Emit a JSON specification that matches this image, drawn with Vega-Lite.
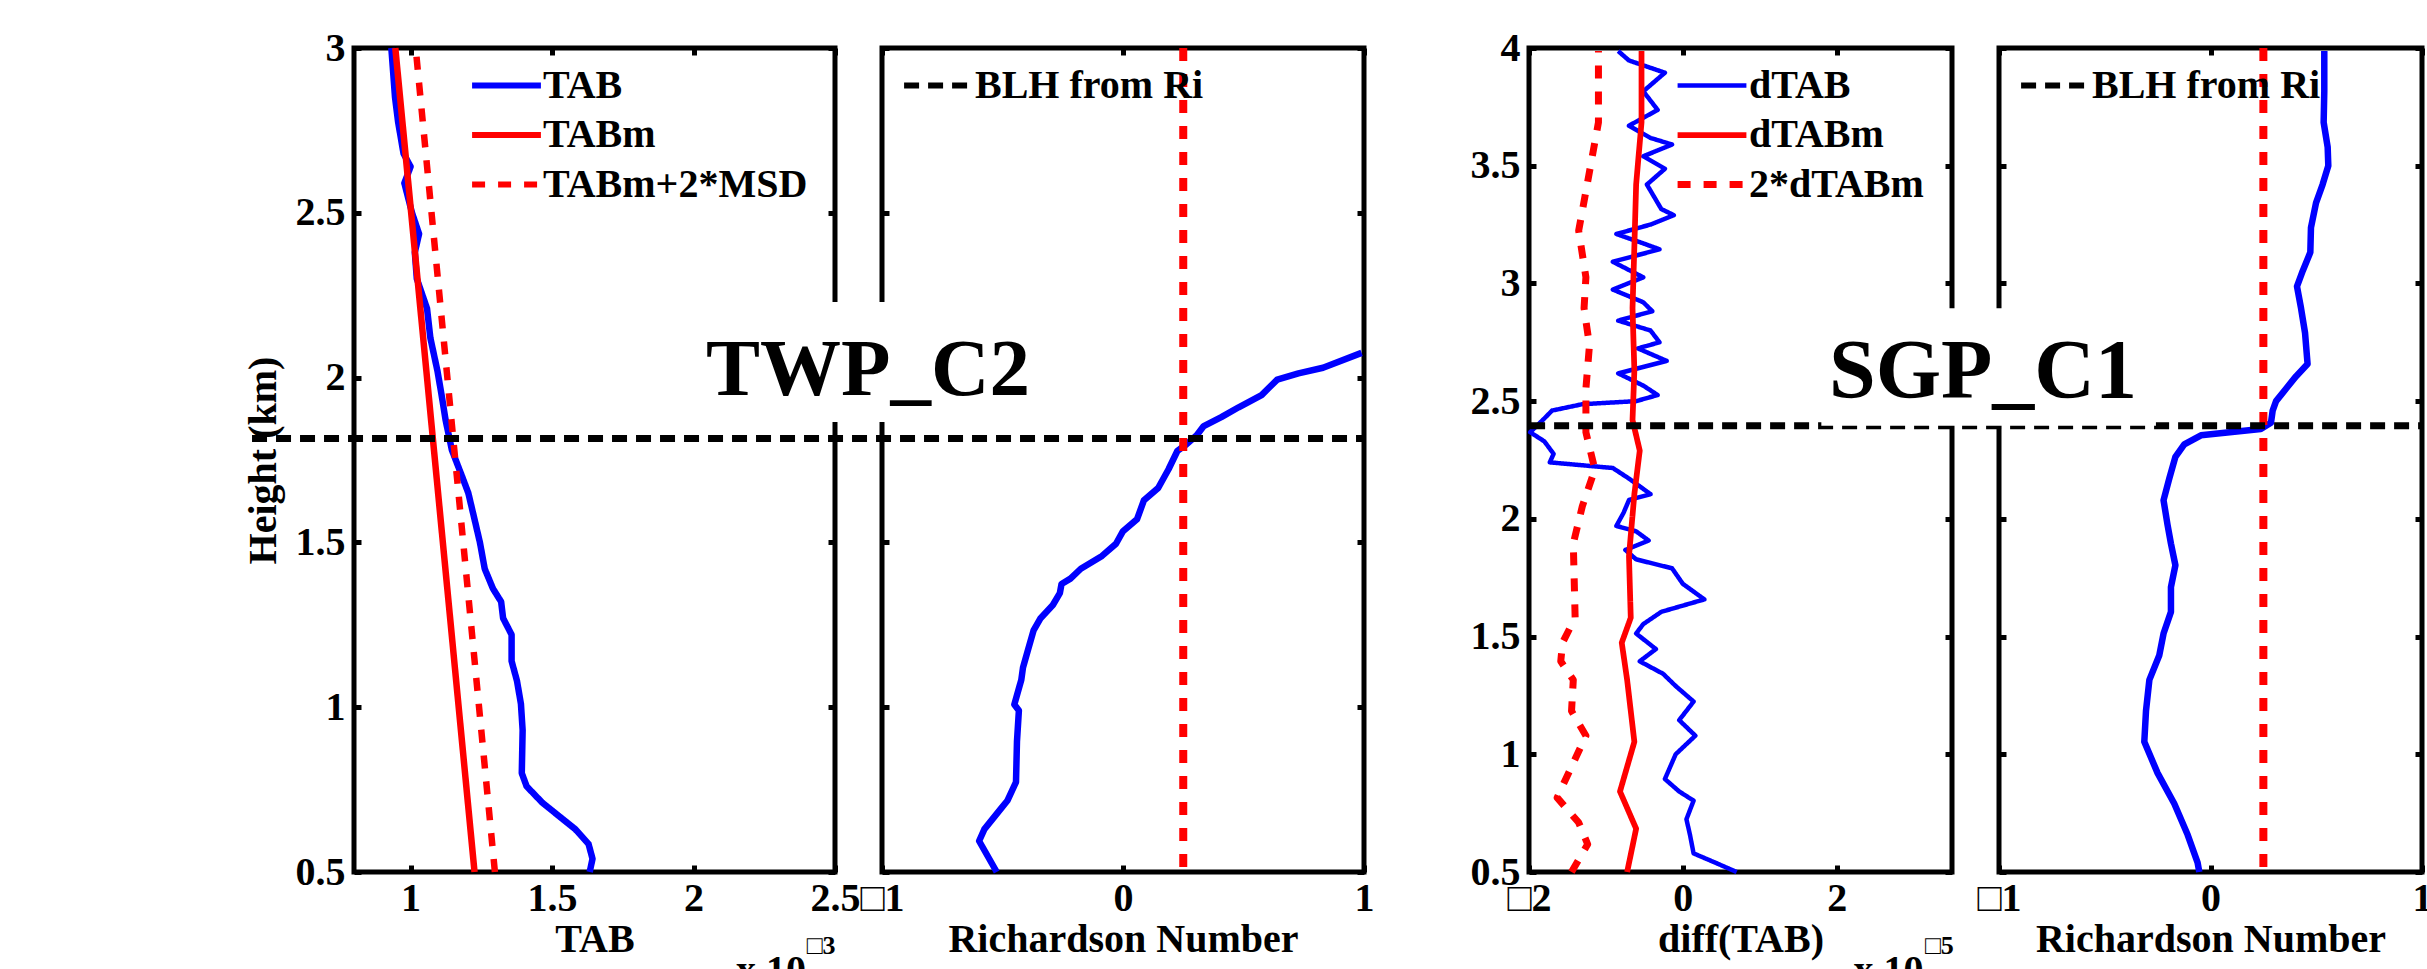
{
  "$schema": "https://vega.github.io/schema/vega-lite/v6.json",
  "background": "white",
  "autosize": {"type": "pad"},
  "padding": {"left": 240, "top": 25, "right": 0, "bottom": 0},
  "config": {
    "font": "Liberation Serif",
    "view": {"stroke": "black", "strokeWidth": 5, "fill": null},
    "scale": {"zero": false},
    "axis": {
      "domain": false, "grid": false,
      "tickColor": "black", "tickWidth": 5, "tickSize": -7,
      "labelFont": "Liberation Serif", "labelFontWeight": "bold", "labelFontSize": 40, "labelColor": "black",
      "labelFlush": false, "labelOverlap": false,
      "titleFont": "Liberation Serif", "titleFontWeight": "bold", "titleFontSize": 40, "titleColor": "black"
    },
    "axisX": {"labelPadding": 13, "titlePadding": 1},
    "axisY": {"labelPadding": 16, "titlePadding": 12},
    "legend": {
      "orient": "none", "padding": 0, "symbolType": "stroke", "symbolSize": 4737, "symbolStrokeWidth": 6,
      "labelFont": "Liberation Serif", "labelFontWeight": "bold", "labelFontSize": 40, "labelColor": "black",
      "labelOffset": -1, "rowPadding": 9.5, "clipHeight": 40, "labelLimit": 0
    }
  },
  "datasets": {
    "twp_tab": [
      {"h": 3.0, "v": 0.932, "s": "TAB"}, {"h": 2.85, "v": 0.945, "s": "TAB"}, {"h": 2.775, "v": 0.956, "s": "TAB"},
      {"h": 2.68, "v": 0.975, "s": "TAB"}, {"h": 2.64, "v": 1.0, "s": "TAB"}, {"h": 2.59, "v": 0.978, "s": "TAB"},
      {"h": 2.5, "v": 1.005, "s": "TAB"}, {"h": 2.436, "v": 1.03, "s": "TAB"}, {"h": 2.38, "v": 1.015, "s": "TAB"},
      {"h": 2.3, "v": 1.022, "s": "TAB"}, {"h": 2.21, "v": 1.058, "s": "TAB"}, {"h": 2.12, "v": 1.07, "s": "TAB"},
      {"h": 2.02, "v": 1.095, "s": "TAB"}, {"h": 1.95, "v": 1.109, "s": "TAB"}, {"h": 1.87, "v": 1.124, "s": "TAB"},
      {"h": 1.78, "v": 1.146, "s": "TAB"}, {"h": 1.7, "v": 1.182, "s": "TAB"}, {"h": 1.65, "v": 1.204, "s": "TAB"},
      {"h": 1.57, "v": 1.226, "s": "TAB"}, {"h": 1.5, "v": 1.245, "s": "TAB"}, {"h": 1.42, "v": 1.262, "s": "TAB"},
      {"h": 1.36, "v": 1.291, "s": "TAB"}, {"h": 1.32, "v": 1.32, "s": "TAB"}, {"h": 1.27, "v": 1.327, "s": "TAB"},
      {"h": 1.22, "v": 1.357, "s": "TAB"}, {"h": 1.14, "v": 1.357, "s": "TAB"}, {"h": 1.08, "v": 1.376, "s": "TAB"},
      {"h": 1.01, "v": 1.39, "s": "TAB"}, {"h": 0.93, "v": 1.396, "s": "TAB"}, {"h": 0.8, "v": 1.393, "s": "TAB"},
      {"h": 0.76, "v": 1.41, "s": "TAB"}, {"h": 0.71, "v": 1.466, "s": "TAB"}, {"h": 0.67, "v": 1.524, "s": "TAB"},
      {"h": 0.63, "v": 1.582, "s": "TAB"}, {"h": 0.585, "v": 1.629, "s": "TAB"}, {"h": 0.54, "v": 1.643, "s": "TAB"},
      {"h": 0.5, "v": 1.633, "s": "TAB"},
      {"h": 3.0, "v": 0.946, "s": "TABm"}, {"h": 1.75, "v": 1.086, "s": "TABm"}, {"h": 0.5, "v": 1.226, "s": "TABm"},
      {"h": 3.0, "v": 1.018, "s": "TABm+2*MSD"}, {"h": 1.75, "v": 1.158, "s": "TABm+2*MSD"}, {"h": 0.5, "v": 1.298, "s": "TABm+2*MSD"}
    ],
    "twp_ri": [
      {"h": 0.5, "ri": -0.524}, {"h": 0.594, "ri": -0.597}, {"h": 0.63, "ri": -0.575}, {"h": 0.69, "ri": -0.509},
      {"h": 0.716, "ri": -0.48}, {"h": 0.773, "ri": -0.444}, {"h": 0.895, "ri": -0.44}, {"h": 0.99, "ri": -0.432},
      {"h": 1.008, "ri": -0.451}, {"h": 1.083, "ri": -0.422}, {"h": 1.12, "ri": -0.415}, {"h": 1.177, "ri": -0.393},
      {"h": 1.233, "ri": -0.371}, {"h": 1.27, "ri": -0.342}, {"h": 1.31, "ri": -0.291}, {"h": 1.346, "ri": -0.262},
      {"h": 1.374, "ri": -0.255}, {"h": 1.39, "ri": -0.218}, {"h": 1.42, "ri": -0.175}, {"h": 1.459, "ri": -0.087},
      {"h": 1.496, "ri": -0.029}, {"h": 1.534, "ri": 0.0}, {"h": 1.57, "ri": 0.058}, {"h": 1.628, "ri": 0.087},
      {"h": 1.665, "ri": 0.146}, {"h": 1.722, "ri": 0.189}, {"h": 1.778, "ri": 0.226}, {"h": 1.797, "ri": 0.262},
      {"h": 1.825, "ri": 0.306}, {"h": 1.853, "ri": 0.335}, {"h": 1.88, "ri": 0.408}, {"h": 1.91, "ri": 0.48},
      {"h": 1.947, "ri": 0.575}, {"h": 1.994, "ri": 0.64}, {"h": 2.013, "ri": 0.728}, {"h": 2.03, "ri": 0.83},
      {"h": 2.075, "ri": 0.99}
    ],
    "sgp_dtab": [
      {"h": 3.987, "v": -0.84, "s": "dTAB"}, {"h": 3.947, "v": -0.7, "s": "dTAB"}, {"h": 3.895, "v": -0.233, "s": "dTAB"},
      {"h": 3.816, "v": -0.514, "s": "dTAB"}, {"h": 3.737, "v": -0.327, "s": "dTAB"}, {"h": 3.67, "v": -0.7, "s": "dTAB"},
      {"h": 3.618, "v": -0.42, "s": "dTAB"}, {"h": 3.59, "v": -0.14, "s": "dTAB"}, {"h": 3.54, "v": -0.514, "s": "dTAB"},
      {"h": 3.487, "v": -0.233, "s": "dTAB"}, {"h": 3.42, "v": -0.467, "s": "dTAB"}, {"h": 3.316, "v": -0.28, "s": "dTAB"},
      {"h": 3.29, "v": -0.117, "s": "dTAB"}, {"h": 3.25, "v": -0.42, "s": "dTAB"}, {"h": 3.21, "v": -0.864, "s": "dTAB"},
      {"h": 3.17, "v": -0.514, "s": "dTAB"}, {"h": 3.145, "v": -0.303, "s": "dTAB"}, {"h": 3.092, "v": -0.91, "s": "dTAB"},
      {"h": 3.026, "v": -0.514, "s": "dTAB"}, {"h": 2.974, "v": -0.91, "s": "dTAB"}, {"h": 2.92, "v": -0.514, "s": "dTAB"},
      {"h": 2.882, "v": -0.397, "s": "dTAB"}, {"h": 2.842, "v": -0.84, "s": "dTAB"}, {"h": 2.8, "v": -0.42, "s": "dTAB"},
      {"h": 2.75, "v": -0.303, "s": "dTAB"}, {"h": 2.724, "v": -0.584, "s": "dTAB"}, {"h": 2.671, "v": -0.21, "s": "dTAB"},
      {"h": 2.618, "v": -0.84, "s": "dTAB"}, {"h": 2.566, "v": -0.514, "s": "dTAB"}, {"h": 2.526, "v": -0.327, "s": "dTAB"},
      {"h": 2.5, "v": -0.607, "s": "dTAB"}, {"h": 2.487, "v": -1.307, "s": "dTAB"}, {"h": 2.46, "v": -1.7, "s": "dTAB"},
      {"h": 2.42, "v": -1.82, "s": "dTAB"}, {"h": 2.368, "v": -1.984, "s": "dTAB"}, {"h": 2.329, "v": -1.8, "s": "dTAB"},
      {"h": 2.276, "v": -1.68, "s": "dTAB"}, {"h": 2.24, "v": -1.73, "s": "dTAB"}, {"h": 2.216, "v": -0.91, "s": "dTAB"},
      {"h": 2.171, "v": -0.7, "s": "dTAB"}, {"h": 2.105, "v": -0.42, "s": "dTAB"}, {"h": 2.08, "v": -0.7, "s": "dTAB"},
      {"h": 2.026, "v": -0.77, "s": "dTAB"}, {"h": 1.97, "v": -0.864, "s": "dTAB"}, {"h": 1.947, "v": -0.607, "s": "dTAB"},
      {"h": 1.908, "v": -0.444, "s": "dTAB"}, {"h": 1.868, "v": -0.747, "s": "dTAB"}, {"h": 1.828, "v": -0.607, "s": "dTAB"},
      {"h": 1.79, "v": -0.14, "s": "dTAB"}, {"h": 1.724, "v": 0.0, "s": "dTAB"}, {"h": 1.658, "v": 0.28, "s": "dTAB"},
      {"h": 1.605, "v": -0.28, "s": "dTAB"}, {"h": 1.553, "v": -0.514, "s": "dTAB"}, {"h": 1.513, "v": -0.607, "s": "dTAB"},
      {"h": 1.447, "v": -0.35, "s": "dTAB"}, {"h": 1.395, "v": -0.56, "s": "dTAB"}, {"h": 1.342, "v": -0.257, "s": "dTAB"},
      {"h": 1.29, "v": -0.093, "s": "dTAB"}, {"h": 1.224, "v": 0.14, "s": "dTAB"}, {"h": 1.145, "v": -0.047, "s": "dTAB"},
      {"h": 1.079, "v": 0.163, "s": "dTAB"}, {"h": 1.0, "v": -0.093, "s": "dTAB"}, {"h": 0.895, "v": -0.233, "s": "dTAB"},
      {"h": 0.842, "v": -0.047, "s": "dTAB"}, {"h": 0.803, "v": 0.14, "s": "dTAB"}, {"h": 0.724, "v": 0.047, "s": "dTAB"},
      {"h": 0.658, "v": 0.093, "s": "dTAB"}, {"h": 0.579, "v": 0.14, "s": "dTAB"}, {"h": 0.54, "v": 0.42, "s": "dTAB"},
      {"h": 0.5, "v": 0.7, "s": "dTAB"},
      {"h": 3.987, "v": -0.537, "s": "dTABm"}, {"h": 3.684, "v": -0.537, "s": "dTABm"}, {"h": 3.42, "v": -0.607, "s": "dTABm"},
      {"h": 3.158, "v": -0.63, "s": "dTABm"}, {"h": 2.895, "v": -0.654, "s": "dTABm"}, {"h": 2.63, "v": -0.63, "s": "dTABm"},
      {"h": 2.42, "v": -0.654, "s": "dTABm"}, {"h": 2.29, "v": -0.56, "s": "dTABm"}, {"h": 2.105, "v": -0.63, "s": "dTABm"},
      {"h": 1.842, "v": -0.7, "s": "dTABm"}, {"h": 1.58, "v": -0.677, "s": "dTABm"}, {"h": 1.474, "v": -0.794, "s": "dTABm"},
      {"h": 1.316, "v": -0.724, "s": "dTABm"}, {"h": 1.053, "v": -0.63, "s": "dTABm"}, {"h": 0.842, "v": -0.817, "s": "dTABm"},
      {"h": 0.684, "v": -0.607, "s": "dTABm"}, {"h": 0.5, "v": -0.724, "s": "dTABm"},
      {"h": 3.987, "v": -1.097, "s": "2*dTABm"}, {"h": 3.684, "v": -1.097, "s": "2*dTABm"}, {"h": 3.474, "v": -1.214, "s": "2*dTABm"},
      {"h": 3.224, "v": -1.354, "s": "2*dTABm"}, {"h": 3.026, "v": -1.26, "s": "2*dTABm"}, {"h": 2.895, "v": -1.284, "s": "2*dTABm"},
      {"h": 2.737, "v": -1.214, "s": "2*dTABm"}, {"h": 2.553, "v": -1.26, "s": "2*dTABm"}, {"h": 2.368, "v": -1.26, "s": "2*dTABm"},
      {"h": 2.21, "v": -1.144, "s": "2*dTABm"}, {"h": 2.053, "v": -1.307, "s": "2*dTABm"}, {"h": 1.895, "v": -1.424, "s": "2*dTABm"},
      {"h": 1.58, "v": -1.4, "s": "2*dTABm"}, {"h": 1.474, "v": -1.564, "s": "2*dTABm"}, {"h": 1.395, "v": -1.587, "s": "2*dTABm"},
      {"h": 1.316, "v": -1.424, "s": "2*dTABm"}, {"h": 1.184, "v": -1.447, "s": "2*dTABm"}, {"h": 1.079, "v": -1.26, "s": "2*dTABm"},
      {"h": 0.947, "v": -1.447, "s": "2*dTABm"}, {"h": 0.816, "v": -1.634, "s": "2*dTABm"}, {"h": 0.71, "v": -1.354, "s": "2*dTABm"},
      {"h": 0.618, "v": -1.237, "s": "2*dTABm"}, {"h": 0.5, "v": -1.447, "s": "2*dTABm"}
    ],
    "sgp_ri": [
      {"h": 3.987, "ri": 0.538}, {"h": 3.816, "ri": 0.538}, {"h": 3.684, "ri": 0.535}, {"h": 3.579, "ri": 0.554},
      {"h": 3.5, "ri": 0.557}, {"h": 3.42, "ri": 0.53}, {"h": 3.342, "ri": 0.499}, {"h": 3.237, "ri": 0.475},
      {"h": 3.132, "ri": 0.472}, {"h": 3.053, "ri": 0.436}, {"h": 2.987, "ri": 0.409}, {"h": 2.895, "ri": 0.428},
      {"h": 2.79, "ri": 0.447}, {"h": 2.658, "ri": 0.459}, {"h": 2.605, "ri": 0.404}, {"h": 2.553, "ri": 0.357},
      {"h": 2.5, "ri": 0.31}, {"h": 2.46, "ri": 0.294}, {"h": 2.408, "ri": 0.286}, {"h": 2.382, "ri": 0.238},
      {"h": 2.355, "ri": -0.045}, {"h": 2.316, "ri": -0.124}, {"h": 2.263, "ri": -0.166}, {"h": 2.171, "ri": -0.195},
      {"h": 2.079, "ri": -0.222}, {"h": 1.974, "ri": -0.203}, {"h": 1.895, "ri": -0.187}, {"h": 1.803, "ri": -0.166},
      {"h": 1.71, "ri": -0.187}, {"h": 1.605, "ri": -0.187}, {"h": 1.513, "ri": -0.222}, {"h": 1.421, "ri": -0.242},
      {"h": 1.316, "ri": -0.289}, {"h": 1.184, "ri": -0.305}, {"h": 1.053, "ri": -0.313}, {"h": 0.92, "ri": -0.25},
      {"h": 0.79, "ri": -0.171}, {"h": 0.658, "ri": -0.108}, {"h": 0.54, "ri": -0.061}, {"h": 0.5, "ri": -0.053}
    ]
  },
  "resolve": {
    "scale": {"x": "independent", "y": "independent", "color": "independent", "strokeDash": "independent", "strokeWidth": "independent"},
    "legend": {"color": "independent", "strokeDash": "independent"}
  },
  "spacing": 47,
  "bounds": "flush",
  "hconcat": [
    {
      "width": 481, "height": 824,
      "resolve": {"axis": {"x": "independent", "y": "independent"}},
      "layer": [
        {
          "data": {"name": "twp_tab"},
          "mark": {"type": "line", "strokeWidth": 6.5, "strokeJoin": "round"},
          "encoding": {
            "x": {"field": "v", "type": "quantitative", "scale": {"domain": [0.8, 2.5], "nice": false},
                  "axis": {"values": [1, 1.5, 2, 2.5], "format": "~g", "title": "TAB"}},
            "y": {"field": "h", "type": "quantitative", "scale": {"domain": [0.5, 3], "nice": false},
                  "axis": {"values": [0.5, 1, 1.5, 2, 2.5, 3], "format": "~g", "title": "Height (km)"}},
            "order": {"field": "h", "type": "quantitative"},
            "color": {"field": "s", "type": "nominal",
                      "scale": {"domain": ["TAB", "TABm", "TABm+2*MSD"], "range": ["#0000ff", "#ff0000", "#ff0000"]},
                      "legend": {"title": null, "legendX": 115, "legendY": 17.5}},
            "strokeDash": {"field": "s", "type": "nominal",
                           "scale": {"domain": ["TAB", "TABm", "TABm+2*MSD"], "range": [[1, 0], [1, 0], [13, 13]]},
                           "legend": {"title": null, "legendX": 115, "legendY": 17.5}}
          }
        },
        {
          "data": {"name": "twp_tab"},
          "mark": {"type": "point", "opacity": 0},
          "encoding": {
            "x": {"field": "v", "type": "quantitative", "scale": {"domain": [0.8, 2.5], "nice": false},
                  "axis": {"orient": "top", "values": [1, 1.5, 2, 2.5], "labels": false, "title": null}},
            "y": {"field": "h", "type": "quantitative", "scale": {"domain": [0.5, 3], "nice": false},
                  "axis": {"orient": "right", "values": [0.5, 1, 1.5, 2, 2.5, 3], "labels": false, "title": null}}
          }
        },
        {
          "data": {"values": [{"t": "x 10"}]},
          "mark": {"type": "text", "fontSize": 40, "fontWeight": "bold", "font": "Liberation Serif", "align": "left", "baseline": "top", "color": "black"},
          "encoding": {
            "x": {"datum": 2.15, "scale": {"domain": [0.8, 2.5], "nice": false}, "axis": null},
            "y": {"datum": 0.26, "scale": {"domain": [0.5, 3], "nice": false}, "axis": null},
            "text": {"field": "t"}
          }
        },
        {
          "data": {"values": [{"t": "□3"}]},
          "mark": {"type": "text", "fontSize": 26, "fontWeight": "bold", "font": "Liberation Serif", "align": "left", "baseline": "top", "color": "black"},
          "encoding": {
            "x": {"datum": 2.4, "scale": {"domain": [0.8, 2.5], "nice": false}, "axis": null},
            "y": {"datum": 0.315, "scale": {"domain": [0.5, 3], "nice": false}, "axis": null},
            "text": {"field": "t"}
          }
        }
      ]
    },
    {
      "width": 482, "height": 824,
      "resolve": {"axis": {"x": "independent", "y": "independent"}},
      "layer": [
        {
          "data": {"name": "twp_ri"},
          "mark": {"type": "line", "color": "#0000ff", "strokeWidth": 6.5, "strokeJoin": "round"},
          "encoding": {
            "x": {"field": "ri", "type": "quantitative", "scale": {"domain": [-1, 1], "nice": false},
                  "axis": {"values": [-1, 0, 1], "format": "~g", "title": "Richardson Number", "labelExpr": "replace(datum.label, '−', '□')"}},
            "y": {"field": "h", "type": "quantitative", "scale": {"domain": [0.5, 3], "nice": false},
                  "axis": {"values": [0.5, 1, 1.5, 2, 2.5, 3], "labels": false, "title": null}},
            "order": {"field": "h", "type": "quantitative"}
          }
        },
        {
          "data": {"name": "twp_ri"},
          "mark": {"type": "point", "opacity": 0},
          "encoding": {
            "x": {"field": "ri", "type": "quantitative", "scale": {"domain": [-1, 1], "nice": false},
                  "axis": {"orient": "top", "values": [-1, 0, 1], "labels": false, "title": null}},
            "y": {"field": "h", "type": "quantitative", "scale": {"domain": [0.5, 3], "nice": false},
                  "axis": {"orient": "right", "values": [0.5, 1, 1.5, 2, 2.5, 3], "labels": false, "title": null}}
          }
        },
        {
          "data": {"values": [{"ric": 0.25}]},
          "mark": {"type": "rule", "color": "#ff0000", "strokeWidth": 8, "strokeDash": [13, 13]},
          "encoding": {"x": {"field": "ric", "type": "quantitative", "scale": {"domain": [-1, 1], "nice": false}, "axis": null}}
        },
        {
          "data": {"values": [{"blh": 1.815, "name": "BLH from Ri"}]},
          "mark": {"type": "rule", "strokeWidth": 7},
          "encoding": {
            "y": {"field": "blh", "type": "quantitative", "scale": {"domain": [0.5, 3], "nice": false}, "axis": null},
            "x": {"datum": -3.614, "scale": {"domain": [-1, 1], "nice": false}, "axis": null},
            "x2": {"datum": 1},
            "color": {"field": "name", "type": "nominal", "scale": {"domain": ["BLH from Ri"], "range": ["#000000"]},
                      "legend": {"title": null, "legendX": 19, "legendY": 17.5}},
            "strokeDash": {"field": "name", "type": "nominal", "scale": {"domain": ["BLH from Ri"], "range": [[15, 9]]},
                           "legend": {"title": null, "legendX": 19, "legendY": 17.5}}
          }
        },
        {
          "data": {"values": [{"site": "TWP_C2"}]},
          "mark": {"type": "rect", "fill": "white"},
          "encoding": {
            "x": {"datum": -1.755, "scale": {"domain": [-1, 1], "nice": false}, "axis": null}, "x2": {"datum": -0.365},
            "y": {"datum": 1.865, "scale": {"domain": [0.5, 3], "nice": false}, "axis": null}, "y2": {"datum": 2.229}
          }
        },
        {
          "data": {"values": [{"site": "TWP_C2"}]},
          "mark": {"type": "text", "fontSize": 81, "fontWeight": "bold", "font": "Liberation Serif", "align": "center", "baseline": "alphabetic", "color": "black"},
          "encoding": {
            "x": {"datum": -1.058, "scale": {"domain": [-1, 1], "nice": false}, "axis": null},
            "y": {"datum": 1.947, "scale": {"domain": [0.5, 3], "nice": false}, "axis": null},
            "text": {"field": "site"}
          }
        }
      ]
    },
    {
      "width": 71, "height": 824,
      "view": {"stroke": null},
      "data": {"values": [{"a": 0}]},
      "mark": {"type": "point", "opacity": 0},
      "encoding": {
        "x": {"field": "a", "type": "quantitative", "axis": null},
        "y": {"field": "a", "type": "quantitative", "axis": null}
      }
    },
    {
      "width": 423, "height": 824,
      "resolve": {"axis": {"x": "independent", "y": "independent"}},
      "layer": [
        {
          "data": {"name": "sgp_dtab"},
          "mark": {"type": "line", "strokeJoin": "round"},
          "encoding": {
            "x": {"field": "v", "type": "quantitative", "scale": {"domain": [-2, 3.5], "nice": false},
                  "axis": {"values": [-2, 0, 2], "format": "~g", "title": "diff(TAB)", "labelExpr": "replace(datum.label, '−', '□')"}},
            "y": {"field": "h", "type": "quantitative", "scale": {"domain": [0.5, 4], "nice": false},
                  "axis": {"values": [0.5, 1, 1.5, 2, 2.5, 3, 3.5, 4], "format": "~g", "title": null}},
            "order": {"field": "h", "type": "quantitative"},
            "strokeWidth": {"field": "s", "type": "nominal", "scale": {"domain": ["dTAB", "dTABm", "2*dTABm"], "range": [4.5, 7, 7]}, "legend": null},
            "color": {"field": "s", "type": "nominal",
                      "scale": {"domain": ["dTAB", "dTABm", "2*dTABm"], "range": ["#0000ff", "#ff0000", "#ff0000"]},
                      "legend": {"title": null, "legendX": 145, "legendY": 17.5}},
            "strokeDash": {"field": "s", "type": "nominal",
                           "scale": {"domain": ["dTAB", "dTABm", "2*dTABm"], "range": [[1, 0], [1, 0], [13, 13]]},
                           "legend": {"title": null, "legendX": 145, "legendY": 17.5}}
          }
        },
        {
          "data": {"name": "sgp_dtab"},
          "mark": {"type": "point", "opacity": 0},
          "encoding": {
            "x": {"field": "v", "type": "quantitative", "scale": {"domain": [-2, 3.5], "nice": false},
                  "axis": {"orient": "top", "values": [-2, 0, 2], "labels": false, "title": null}},
            "y": {"field": "h", "type": "quantitative", "scale": {"domain": [0.5, 4], "nice": false},
                  "axis": {"orient": "right", "values": [0.5, 1, 1.5, 2, 2.5, 3, 3.5, 4], "labels": false, "title": null}}
          }
        },
        {
          "data": {"values": [{"t": "x 10"}]},
          "mark": {"type": "text", "fontSize": 40, "fontWeight": "bold", "font": "Liberation Serif", "align": "left", "baseline": "top", "color": "black"},
          "encoding": {
            "x": {"datum": 2.22, "scale": {"domain": [-2, 3.5], "nice": false}, "axis": null},
            "y": {"datum": 0.164, "scale": {"domain": [0.5, 4], "nice": false}, "axis": null},
            "text": {"field": "t"}
          }
        },
        {
          "data": {"values": [{"t": "□5"}]},
          "mark": {"type": "text", "fontSize": 26, "fontWeight": "bold", "font": "Liberation Serif", "align": "left", "baseline": "top", "color": "black"},
          "encoding": {
            "x": {"datum": 3.15, "scale": {"domain": [-2, 3.5], "nice": false}, "axis": null},
            "y": {"datum": 0.241, "scale": {"domain": [0.5, 4], "nice": false}, "axis": null},
            "text": {"field": "t"}
          }
        }
      ]
    },
    {
      "width": 423, "height": 824,
      "resolve": {"axis": {"x": "independent", "y": "independent"}},
      "layer": [
        {
          "data": {"name": "sgp_ri"},
          "mark": {"type": "line", "color": "#0000ff", "strokeWidth": 6.5, "strokeJoin": "round"},
          "encoding": {
            "x": {"field": "ri", "type": "quantitative", "scale": {"domain": [-1, 1], "nice": false},
                  "axis": {"values": [-1, 0, 1], "format": "~g", "title": "Richardson Number", "labelExpr": "replace(datum.label, '−', '□')"}},
            "y": {"field": "h", "type": "quantitative", "scale": {"domain": [0.5, 4], "nice": false},
                  "axis": {"values": [0.5, 1, 1.5, 2, 2.5, 3, 3.5, 4], "labels": false, "title": null}},
            "order": {"field": "h", "type": "quantitative"}
          }
        },
        {
          "data": {"name": "sgp_ri"},
          "mark": {"type": "point", "opacity": 0},
          "encoding": {
            "x": {"field": "ri", "type": "quantitative", "scale": {"domain": [-1, 1], "nice": false},
                  "axis": {"orient": "top", "values": [-1, 0, 1], "labels": false, "title": null}},
            "y": {"field": "h", "type": "quantitative", "scale": {"domain": [0.5, 4], "nice": false},
                  "axis": {"orient": "right", "values": [0.5, 1, 1.5, 2, 2.5, 3, 3.5, 4], "labels": false, "title": null}}
          }
        },
        {
          "data": {"values": [{"ric": 0.25}]},
          "mark": {"type": "rule", "color": "#ff0000", "strokeWidth": 8, "strokeDash": [13, 13]},
          "encoding": {"x": {"field": "ric", "type": "quantitative", "scale": {"domain": [-1, 1], "nice": false}, "axis": null}}
        },
        {
          "data": {"values": [{"blh": 2.395, "name": "BLH from Ri"}]},
          "mark": {"type": "rule", "strokeWidth": 7},
          "encoding": {
            "y": {"field": "blh", "type": "quantitative", "scale": {"domain": [0.5, 4], "nice": false}, "axis": null},
            "x": {"datum": -3.217, "scale": {"domain": [-1, 1], "nice": false}, "axis": null},
            "x2": {"datum": 1},
            "color": {"field": "name", "type": "nominal", "scale": {"domain": ["BLH from Ri"], "range": ["#000000"]},
                      "legend": {"title": null, "legendX": 19, "legendY": 17.5}},
            "strokeDash": {"field": "name", "type": "nominal", "scale": {"domain": ["BLH from Ri"], "range": [[15, 9]]},
                           "legend": {"title": null, "legendX": 19, "legendY": 17.5}}
          }
        },
        {
          "data": {"values": [{"site": "SGP_C1"}]},
          "mark": {"type": "rect", "fill": "white"},
          "encoding": {
            "x": {"datum": -1.84, "scale": {"domain": [-1, 1], "nice": false}, "axis": null}, "x2": {"datum": -0.258},
            "y": {"datum": 2.395, "scale": {"domain": [0.5, 4], "nice": false}, "axis": null}, "y2": {"datum": 2.895}
          }
        },
        {
          "data": {"values": [{"site": "SGP_C1"}]},
          "mark": {"type": "text", "fontSize": 84, "fontWeight": "bold", "font": "Liberation Serif", "align": "center", "baseline": "alphabetic", "color": "black"},
          "encoding": {
            "x": {"datum": -1.076, "scale": {"domain": [-1, 1], "nice": false}, "axis": null},
            "y": {"datum": 2.513, "scale": {"domain": [0.5, 4], "nice": false}, "axis": null},
            "text": {"field": "site"}
          }
        }
      ]
    }
  ]
}
